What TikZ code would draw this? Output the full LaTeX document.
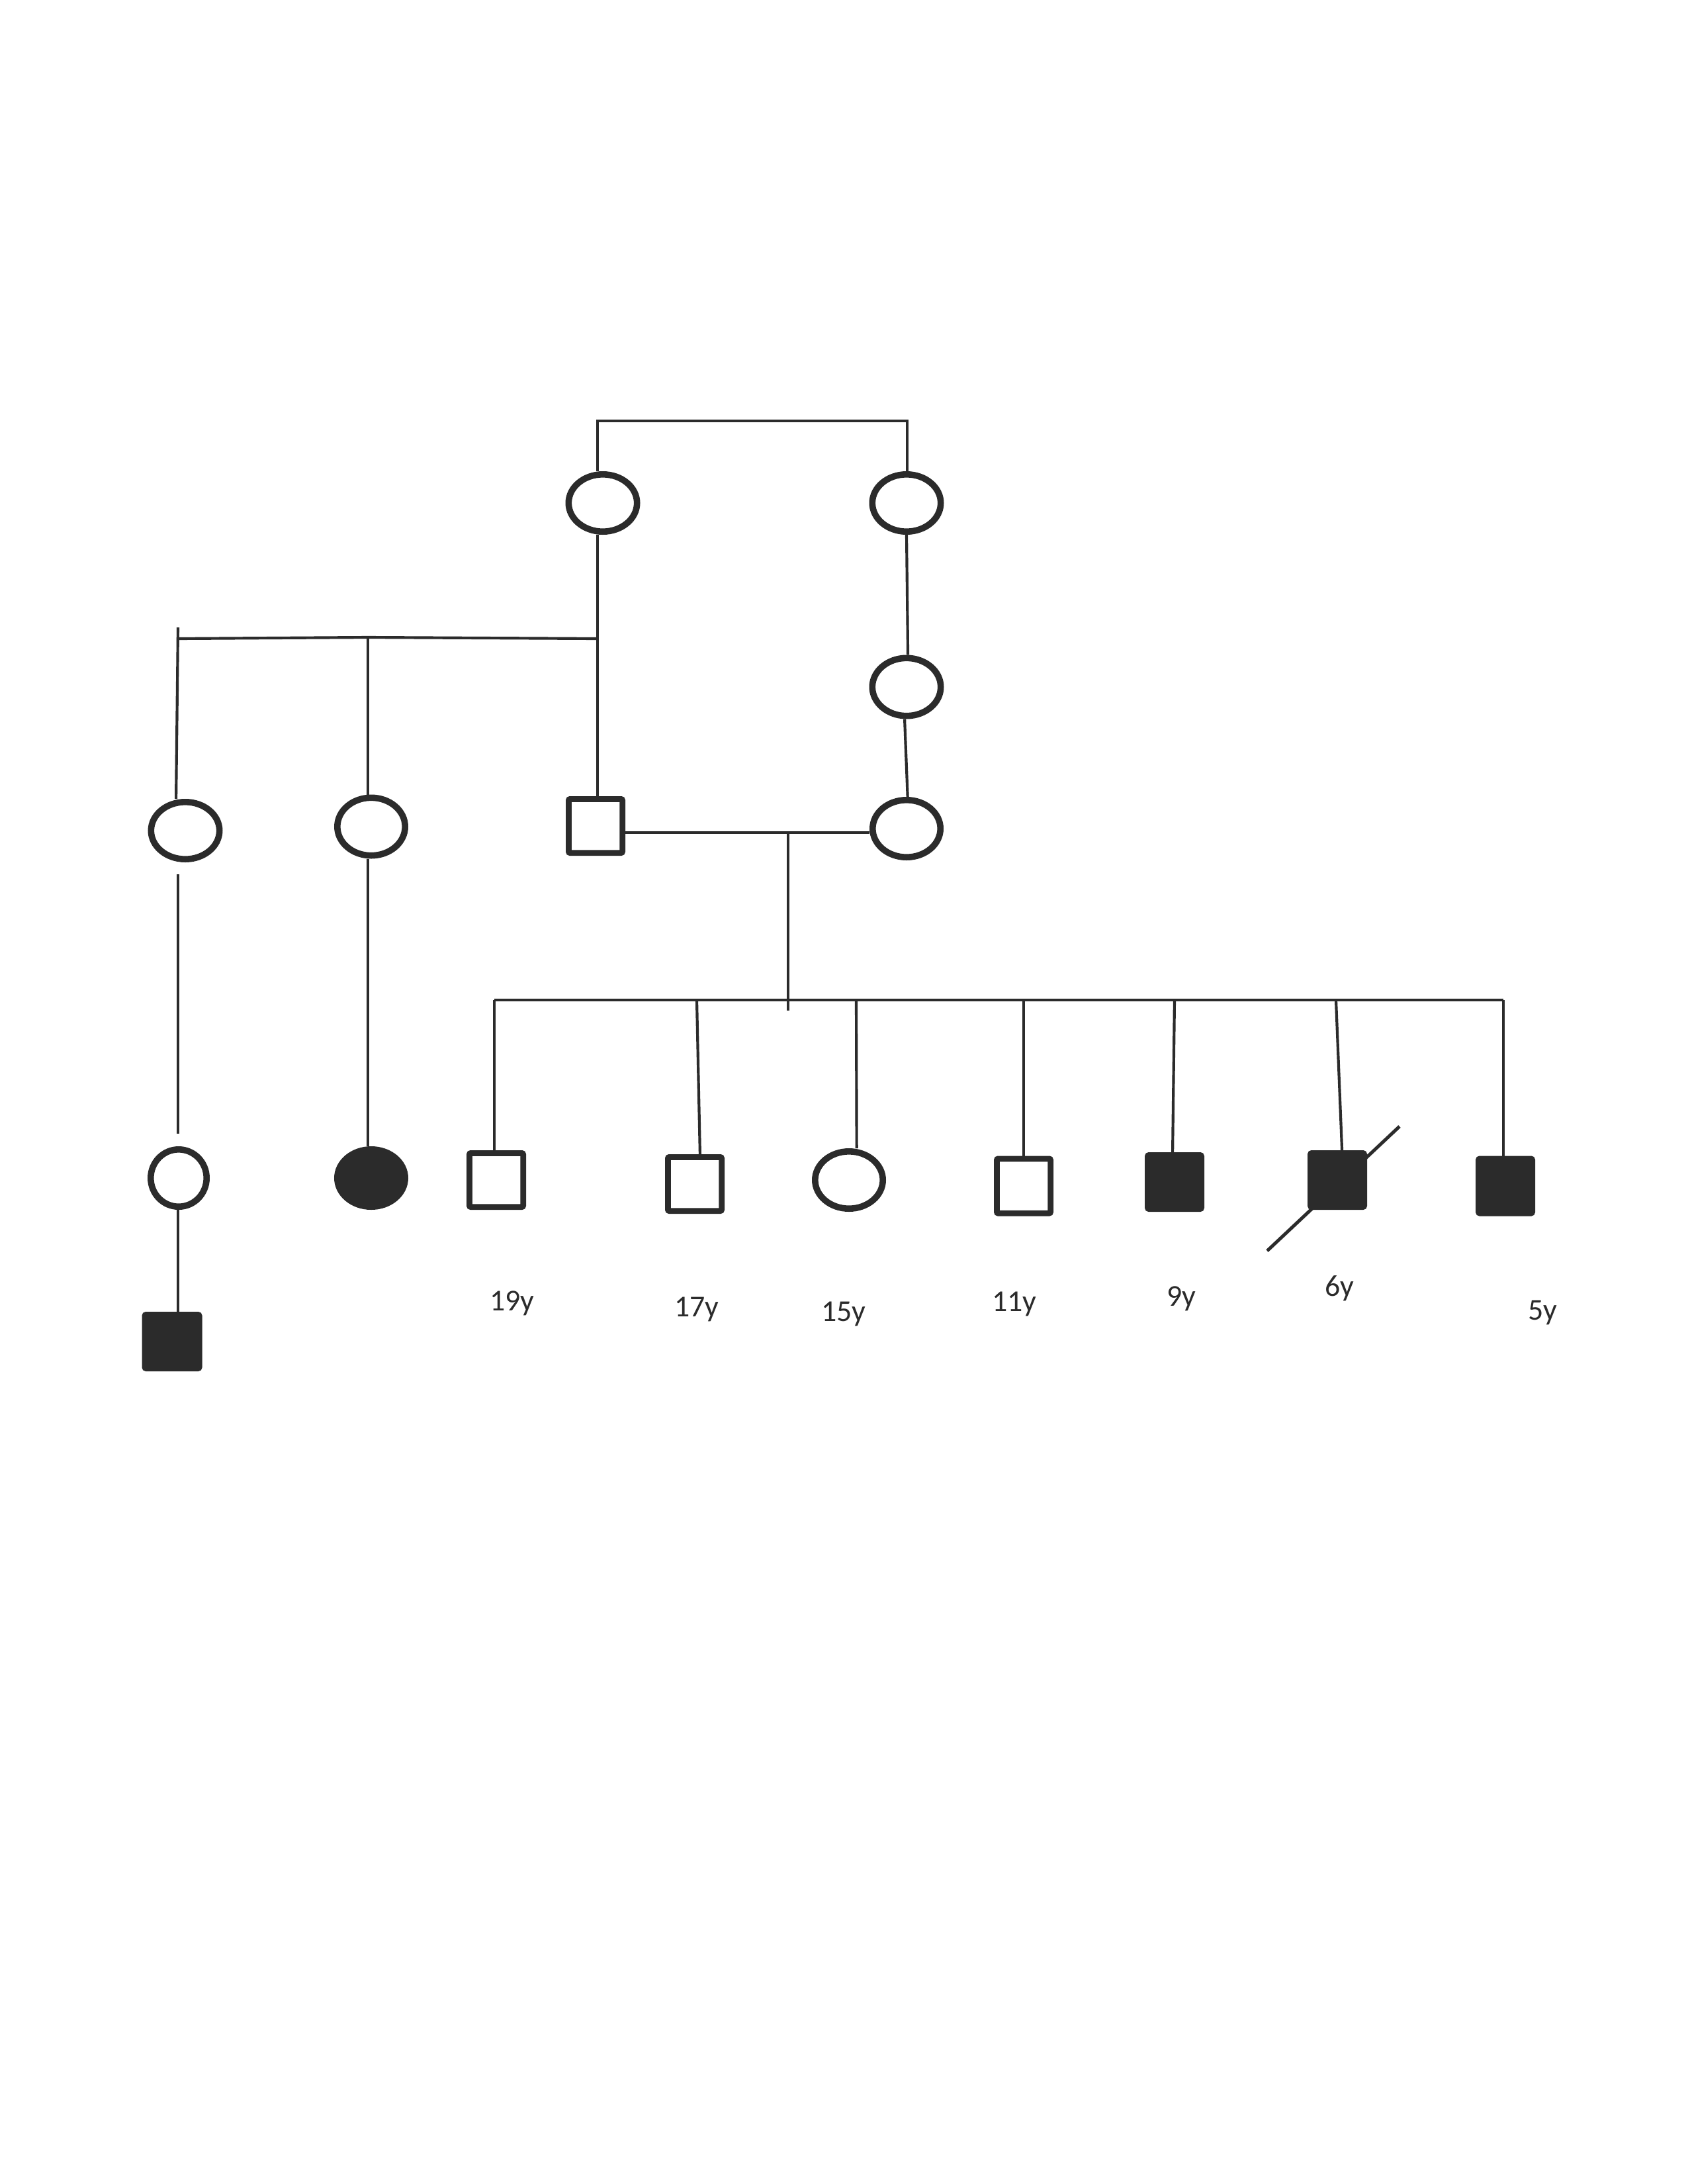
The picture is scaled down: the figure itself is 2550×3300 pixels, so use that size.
\documentclass[tikz,border=0pt]{standalone}
\usepackage{fontspec}
\setmainfont{Carlito}
\usetikzlibrary{shapes.geometric}
\definecolor{ink}{RGB}{43,43,43}
\begin{document}
\begin{tikzpicture}[x=0.24pt,y=-0.24pt,
  fem/.style n args={2}{ellipse,draw=ink,line width=2.3pt,inner sep=0pt,minimum width=#1*0.24pt-2.3pt,minimum height=#2*0.24pt-2.3pt},
  male/.style n args={2}{rectangle,draw=ink,line width=2.1pt,inner sep=0pt,rounded corners=0.5pt,minimum width=#1*0.24pt-2.1pt,minimum height=#2*0.24pt-2.1pt},
  affected/.style={fill=ink},
  conn/.style={draw=ink,line width=1pt},
  age/.style={anchor=base,text=ink,font=\fontsize{11}{13}\selectfont,inner sep=0pt}]
\fill[white] (0,0) rectangle (2550,3300);
\useasboundingbox (0,0) rectangle (2550,3300);
% generation I
\node[fem={113}{96}] (A) at (911,760) {};
\node[fem={113}{96}] (B) at (1370,760) {};
% generation II
\node[fem={113}{97}] (C) at (1370,1038) {};
% generation III
\node[fem={113}{96}] (D) at (280,1255) {};
\node[fem={112}{97}] (E) at (561,1249) {};
\node[male={90}{90}] (F) at (900,1248) {};
\node[fem={112}{96}] (G) at (1370,1252) {};
% generation IV
\node[fem={94}{96}] (H) at (270,1780) {};
\node[fem={112}{96},affected] (I) at (561,1780) {};
\node[male={90}{90}] (J) at (750,1783) {};
\node[male={90}{90}] (K) at (1050,1789) {};
\node[fem={112}{96}] (L) at (1283,1783) {};
\node[male={90}{91}] (M) at (1547,1792) {};
\node[male={90}{90},affected] (N) at (1775,1786) {};
\node[male={90}{90},affected] (O) at (2021,1783) {};
\node[male={90}{91},affected] (P) at (2275,1792) {};
% generation V
\node[male={91}{90},affected] (Q) at (260,2027) {};
% ages
\node[age] (a19) at (774,1980) {19y};
\node[age] (a17) at (1053,1989) {17y};
\node[age] (a15) at (1275,1996) {15y};
\node[age] (a11) at (1533,1981) {11y};
\node[age] (a9) at (1785,1973) {9y};
\node[age] (a6) at (2024,1958) {6y};
\node[age] (a5) at (2331,1994) {5y};
% coordinates
\coordinate (t1) at (903,636);
\coordinate (t2) at (1371,636);
\coordinate (g0) at (269,948);
\coordinate (g1) at (269,965);
\coordinate (g2) at (556,963);
\coordinate (g3) at (903,965);
\coordinate (mid) at (1191,1258);
\coordinate (d1) at (1191,1527);
\coordinate (h0) at (269,1321);
\coordinate (h1) at (269,1713);
\coordinate (s1) at (747,1511);
\coordinate (s2) at (1053,1511);
\coordinate (s3) at (1294,1511);
\coordinate (s4) at (1547,1511);
\coordinate (s5) at (1775,1511);
\coordinate (s6) at (2019,1511);
\coordinate (s7) at (2272,1511);
\coordinate (sl1) at (1915,1890);
\coordinate (sl2) at (2115,1702);
% connectors
\draw[conn] (t1 |- A.north) -- (t1) -- (t2) -- (t2 |- B.north);
\draw[conn] (A.south -| t1) -- (t1 |- F.north);
\draw[conn] (g1) -- (g2) -- (g3);
\draw[conn] (g0) -- ([xshift=-0.7pt]g0 |- D.north);
\draw[conn] (g2) -- (g2 |- E.north);
\draw[conn] (B.south) -- ([xshift=0.5pt]C.north);
\draw[conn] ([xshift=-0.7pt]C.south) -- ([xshift=0.4pt]G.north);
\draw[conn] (F.east |- mid) -- (G.west |- mid);
\draw[conn] (mid) -- (d1);
\draw[conn] (s1) -- (s7);
\draw[conn] (s1) -- (s1 |- J.north);
\draw[conn] (s2) -- ([xshift=1.9pt]K.north);
\draw[conn] (s3) -- ([xshift=2.8pt]L.north);
\draw[conn] (s4) -- (s4 |- M.north);
\draw[conn] (s5) -- ([xshift=-0.7pt]N.north);
\draw[conn] (s6) -- ([xshift=1.7pt]O.north);
\draw[conn] (s7) -- (s7 |- P.north);
\draw[conn] (h0) -- (h1);
\draw[conn] (g2 |- E.south) -- (g2 |- I.north);
\draw[conn] (h0 |- H.south) -- (h0 |- Q.north);
\draw[draw=ink,line width=1.2pt] (sl1) -- (sl2);
\end{tikzpicture}
\end{document}
